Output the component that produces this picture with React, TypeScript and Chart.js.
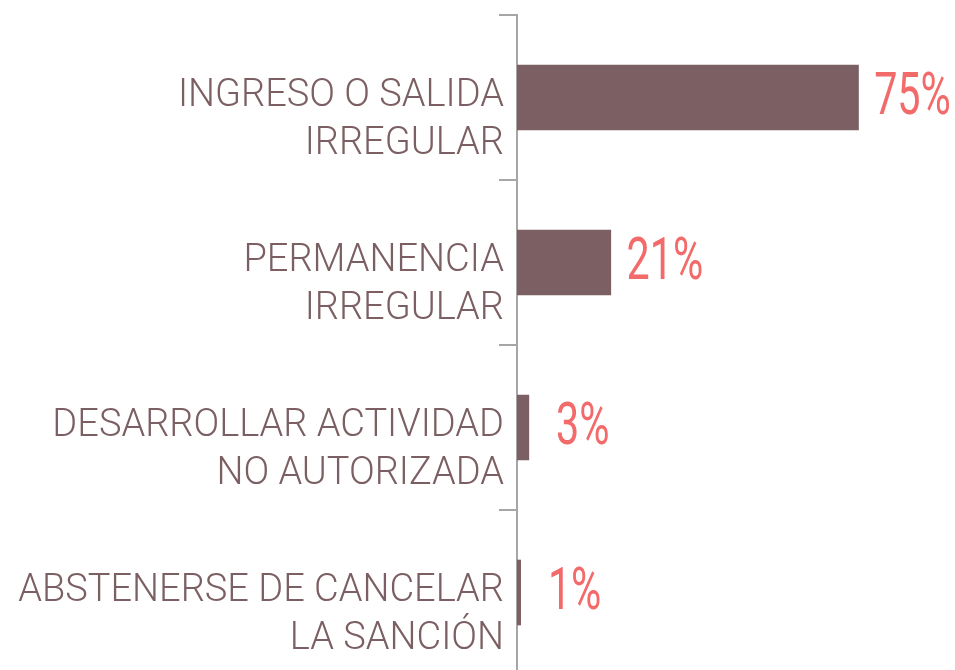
import React, { useEffect, useRef } from "react";
import { Chart, registerables } from "chart.js";

Chart.register(...registerables);

const categories: string[][] = [
  ["INGRESO O SALIDA", "IRREGULAR"],
  ["PERMANENCIA", "IRREGULAR"],
  ["DESARROLLAR ACTIVIDAD", "NO AUTORIZADA"],
  ["ABSTENERSE DE CANCELAR", "LA SANCIÓN"],
];
const values: number[] = [75, 20.6, 2.6, 0.8];
const valueLabels: string[] = ["75%", "21%", "3%", "1%"];

const BAR_COLOR = "#7b5f62";
const LABEL_COLOR = "#7b5f62";
const VALUE_COLOR = "#f26a6a";
const AXIS_COLOR = "#a6a6a6";

const valueLabelPlugin = {
  id: "valueLabels",
  afterDatasetsDraw(chart: any) {
    const ctx = chart.ctx as CanvasRenderingContext2D;
    const meta = chart.getDatasetMeta(0);
    ctx.save();
    ctx.fillStyle = VALUE_COLOR;
    ctx.font = "400 59px Roboto";
    ctx.textAlign = "center";
    ctx.textBaseline = "middle";
    const sx = 0.7;
    meta.data.forEach((bar: any, i: number) => {
      const cx = bar.x + 54;
      const cy = bar.y;
      ctx.save();
      ctx.translate(cx, cy);
      ctx.scale(sx, 1);
      ctx.fillText(valueLabels[i], 0, 2);
      ctx.restore();
    });
    ctx.restore();
  },
};

export default function App() {
  const ref = useRef<HTMLCanvasElement | null>(null);
  useEffect(() => {
    if (!ref.current) return;
    const chart = new Chart(ref.current, {
      type: "bar",
      data: {
        labels: categories as any,
        datasets: [
          {
            data: values,
            backgroundColor: BAR_COLOR,
            borderWidth: 0,
            barThickness: 65,
          },
        ],
      },
      options: {
        indexAxis: "y",
        responsive: false,
        animation: false,
        devicePixelRatio: 1,
        layout: { padding: { top: 15, right: 10, bottom: 25, left: 0 } },
        plugins: {
          legend: { display: false },
          tooltip: { enabled: false },
        },
        scales: {
          x: { display: false, min: 0, max: 94 },
          y: {
            type: "category",
            border: { display: true, color: AXIS_COLOR, width: 2 },
            grid: {
              display: true,
              offset: true,
              drawOnChartArea: false,
              drawTicks: true,
              tickLength: 18,
              color: AXIS_COLOR,
              lineWidth: 2,
            },
            ticks: {
              color: LABEL_COLOR,
              padding: -5,
              labelOffset: 23,
              font: { family: "Roboto", size: 38, weight: 300 as any, lineHeight: 1.28 },
            },
            afterFit(scale: any) {
              scale.width = 517;
              scale.paddingTop = 0;
              scale.paddingBottom = 0;
            },
          },
        },
      },
      plugins: [valueLabelPlugin],
    });
    return () => chart.destroy();
  }, []);
  return (
    <div
      style={{
        position: "fixed",
        left: 0,
        top: 0,
        width: 955,
        height: 670,
        overflow: "hidden",
        background: "#ffffff",
      }}
    >
      <canvas ref={ref} width={955} height={700} style={{ display: "block" }} />
    </div>
  );
}
